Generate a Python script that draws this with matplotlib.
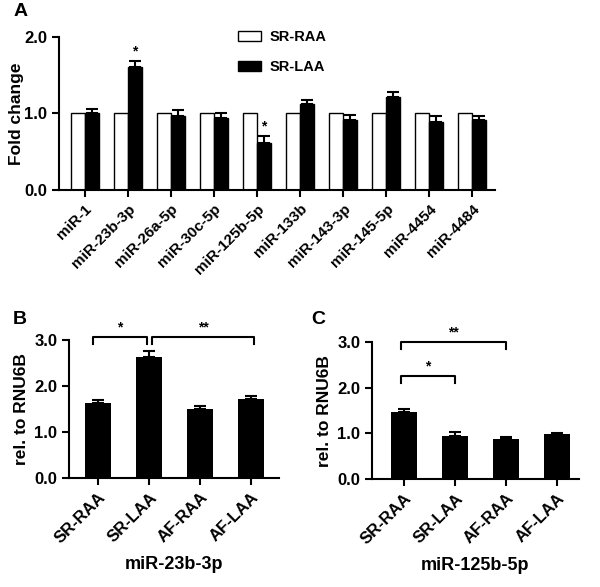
import matplotlib
matplotlib.use("Agg")
import matplotlib.pyplot as plt
import numpy as np

plt.rcParams['font.family'] = ['Liberation Sans', 'DejaVu Sans']
plt.rcParams['font.weight'] = 'bold'
plt.rcParams['axes.linewidth'] = 1.5

# ---- panel A data ----
mirs = ["miR-1", "miR-23b-3p", "miR-26a-5p", "miR-30c-5p", "miR-125b-5p",
        "miR-133b", "miR-143-3p", "miR-145-5p", "miR-4454", "miR-4484"]
sr_raa = [1.0] * 10
sr_laa = [1.01, 1.60, 0.97, 0.94, 0.62, 1.12, 0.91, 1.21, 0.89, 0.92]
sr_laa_err = [0.05, 0.08, 0.07, 0.06, 0.08, 0.06, 0.07, 0.07, 0.08, 0.05]
stars_a = {1: "*", 4: "*"}

# ---- panels B / C data ----
groups = ["SR-RAA", "SR-LAA", "AF-RAA", "AF-LAA"]
mir23 = [1.63, 2.62, 1.51, 1.71]
mir23_err = [0.07, 0.13, 0.06, 0.08]
mir125 = [1.47, 0.94, 0.88, 0.98]
mir125_err = [0.07, 0.09, 0.04, 0.03]


def style(ax, size=12):
    for s in ["top", "right"]:
        ax.spines[s].set_visible(False)
    ax.tick_params(width=1.5, length=5)
    ax.tick_params(axis='y', labelsize=size)
    for lab in ax.get_yticklabels():
        lab.set_fontweight('bold')


def bracket(ax, x1, x2, y, h, text):
    ax.plot([x1, x1, x2, x2], [y - h, y, y, y - h], color='black', lw=1.5,
            clip_on=False)
    ax.text((x1 + x2) / 2, y + 0.06, text, ha='center', va='bottom',
            fontsize=10, clip_on=False)


fig = plt.figure(figsize=(6, 5.87), dpi=100)

# ---------------- panel A ----------------
axA = fig.add_axes([0.0983, 0.6763, 0.7267, 0.261])
x = np.arange(len(mirs))
w = 0.33
axA.bar(x - w / 2, sr_raa, w, color='white', edgecolor='black', lw=1,
        label="SR-RAA")
axA.bar(x + w / 2, sr_laa, w, color='black', edgecolor='black', lw=1,
        label="SR-LAA")
axA.errorbar(x + w / 2, sr_laa, yerr=[np.zeros(len(x)), sr_laa_err], fmt='none',
             ecolor='black', elinewidth=1.5, capsize=4, capthick=1.5)
for i, s in stars_a.items():
    axA.text(x[i] + w / 2, sr_laa[i] + sr_laa_err[i] + 0.04, s, ha='center',
             va='bottom', fontsize=10)
axA.set_xlim(-0.6, 9.53)
axA.set_ylim(0, 2.0)
axA.set_yticks([0, 1.0, 2.0])
axA.set_yticklabels(["0.0", "1.0", "2.0"])
axA.set_xticks(x)
axA.set_xticklabels(mirs, rotation=45, ha='right', rotation_mode='anchor',
                    fontsize=11, fontweight='bold')
axA.set_ylabel("Fold change", fontsize=12.5, fontweight='bold')
axA.yaxis.set_label_coords(-0.08, 0.5)
style(axA)
axA.legend(loc='upper left', bbox_to_anchor=(0.38, 1.13), frameon=False,
           handlelength=1.6, handleheight=0.6, labelspacing=1.1,
           handletextpad=0.6, prop={'weight': 'bold', 'size': 10.5})
fig.text(0.022, 0.98, "A", fontsize=14, fontweight='bold', va='center')

# ---------------- panel B ----------------
axB = fig.add_axes([0.115, 0.1857, 0.35, 0.2351])
xb = np.arange(len(groups))
axB.bar(xb, mir23, 0.51, color='black')
axB.errorbar(xb, mir23, yerr=[np.zeros(4), mir23_err], fmt='none',
             ecolor='black', elinewidth=1.5, capsize=4, capthick=1.5)
axB.set_xlim(-0.57, 3.55)
axB.set_ylim(0, 3.0)
axB.set_yticks([0, 1, 2, 3])
axB.set_yticklabels(["0.0", "1.0", "2.0", "3.0"])
axB.set_xticks(xb)
axB.set_xticklabels(groups, rotation=45, ha='right', rotation_mode='anchor',
                    fontsize=12, fontweight='bold')
axB.set_ylabel("rel. to RNU6B", fontsize=12.5, fontweight='bold')
axB.set_xlabel("miR-23b-3p", fontsize=13, fontweight='bold', labelpad=7)
style(axB)
bracket(axB, -0.1, 0.96, 3.06, 0.15, "*")
bracket(axB, 1.06, 3.06, 3.06, 0.15, "**")
fig.text(0.022, 0.455, "B", fontsize=14, fontweight='bold', va='center')

# ---------------- panel C ----------------
axC = fig.add_axes([0.62, 0.184, 0.345, 0.233])
axC.bar(xb, mir125, 0.51, color='black')
axC.errorbar(xb, mir125, yerr=[np.zeros(4), mir125_err], fmt='none',
             ecolor='black', elinewidth=1.5, capsize=4, capthick=1.5)
axC.set_xlim(-0.63, 3.43)
axC.set_ylim(0, 3.0)
axC.set_yticks([0, 1, 2, 3])
axC.set_yticklabels(["0.0", "1.0", "2.0", "3.0"])
axC.set_xticks(xb)
axC.set_xticklabels(groups, rotation=45, ha='right', rotation_mode='anchor',
                    fontsize=12, fontweight='bold')
axC.set_ylabel("rel. to RNU6B", fontsize=12.5, fontweight='bold')
axC.set_xlabel("miR-125b-5p", fontsize=13, fontweight='bold', labelpad=7)
style(axC)
bracket(axC, -0.07, 2.0, 3.0, 0.15, "**")
bracket(axC, -0.07, 1.0, 2.25, 0.15, "*")
fig.text(0.518, 0.455, "C", fontsize=14, fontweight='bold', va='center')

fig.savefig("out.png", dpi=100)
